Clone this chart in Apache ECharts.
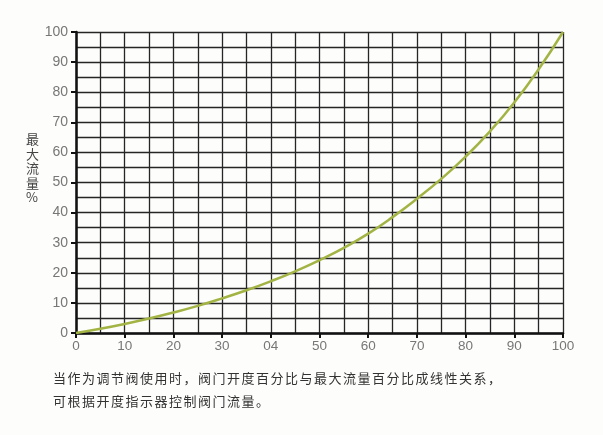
<!DOCTYPE html>
<html><head><meta charset="utf-8">
<script src="https://cdn.jsdelivr.net/npm/echarts@6/dist/echarts.min.js"></script>
<style>html,body{margin:0;padding:0;background:#fdfdfb;}#w{position:relative;width:603px;height:435px;}#c{width:603px;height:435px;}
.cap{position:absolute;left:53px;font:13px "Noto Sans CJK SC";letter-spacing:1.5px;color:#333;white-space:nowrap;}</style>
</head><body><div id="w"><div id="c"></div>
<div class="cap" id="cap1" style="top:368px"></div>
<div class="cap" id="cap2" style="top:391px"></div></div>
<script>
const openingPct = [0,5,10,15,20,25,30,35,40,45,50,55,60,65,70,75,80,85,90,95,100];
const flowPct = [0,1.4,3,4.8,6.8,9,11.5,14.2,17.2,20.5,24.2,28.3,33,38.5,44.6,51.2,58.6,67,76.6,87.6,100];
const xTickLabels = ['0','10','20','30','04','50','60','70','80','90','100'];
const yTickLabels = ['0','10','20','30','40','50','60','70','80','90','100'];
const yAxisName = '最\n大\n流\n量\n%';
const caption1 = '当作为调节阀使用时，阀门开度百分比与最大流量百分比成线性关系，';
const caption2 = '可根据开度指示器控制阀门流量。';
document.getElementById('cap1').textContent = caption1;
document.getElementById('cap2').textContent = caption2;

const chart = echarts.init(document.getElementById('c'));
const gridLine = {show:true, lineStyle:{color:'#262626', width:1.3}};
chart.setOption({
  backgroundColor:'#fdfdfb',
  animation:false,
  grid:{left:76, right:40, top:32, bottom:102},
  xAxis:{type:'value', min:0, max:100, interval:10,
    axisLine:{show:true, lineStyle:{color:'#111', width:2.5}},
    axisTick:{show:true, length:5, lineStyle:{color:'#111', width:2}},
    axisLabel:{color:'#777', fontSize:13.5, fontFamily:'Liberation Sans, Arial', margin:6,
      formatter:v=>xTickLabels[Math.round(v/10)]},
    splitLine:gridLine,
    minorTick:{show:true, splitNumber:2, length:0},
    minorSplitLine:gridLine},
  yAxis:{type:'value', min:0, max:100, interval:10,
    axisLine:{show:true, lineStyle:{color:'#111', width:2.5}},
    axisTick:{show:true, length:5, lineStyle:{color:'#111', width:2}},
    axisLabel:{color:'#777', fontSize:14, fontFamily:'Liberation Sans, Arial', margin:8,
      formatter:v=>yTickLabels[Math.round(v/10)]},
    splitLine:gridLine,
    minorTick:{show:true, splitNumber:2, length:0},
    minorSplitLine:gridLine},
  graphic:[
    {type:'text', left:26, top:132, style:{text:yAxisName, fill:'#444', font:'13px "Noto Sans CJK SC"', lineHeight:14.5, align:'center'}}
  ],
  series:[{type:'line', smooth:true, showSymbol:false,
    data:openingPct.map((x,i)=>[x,flowPct[i]]),
    lineStyle:{color:'#a3b444', width:2.5}}]
});
</script></body></html>
